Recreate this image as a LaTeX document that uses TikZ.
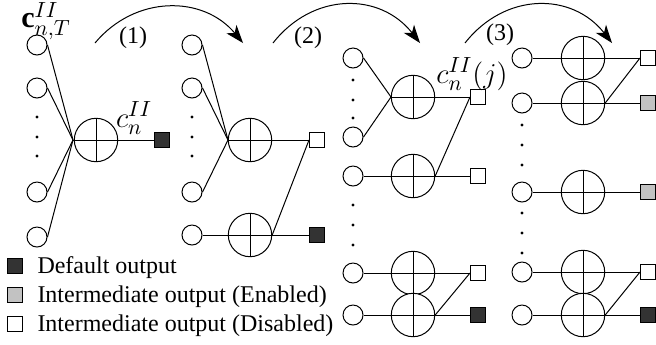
\documentclass[tikz,border=0pt,12pt]{standalone}
\usepackage{fontspec}
\setmainfont{Liberation Serif}
\usetikzlibrary{arrows.meta}
\definecolor{defout}{gray}{0.2}
\definecolor{enout}{gray}{0.76}
\begin{document}
\begin{tikzpicture}[x=0.5pt, y=-0.5pt, line width=0.5pt,
	inc/.style={circle, draw, minimum size=10pt, inner sep=0pt, fill=white},
	sumc/.style={circle, draw, minimum size=21.7pt, inner sep=0pt, fill=white,
		path picture={\draw (path picture bounding box.north) -- (path picture bounding box.south)
			(path picture bounding box.west) -- (path picture bounding box.east);}},
	outsq/.style={draw, minimum size=7.5pt, inner sep=0pt, fill=white},
	dflt/.style={outsq, fill=defout},
	enbl/.style={outsq, fill=enout},
	mlabel/.style={inner sep=0pt, font=\fontsize{15}{18}\selectfont},
	stage/.style={-{Stealth[length=9pt, width=6.5pt, inset=2.5pt]}}]

	\useasboundingbox (0,0) rectangle (656,344);

	% stage 0
	\node[inc] (a1) at (37, 45) {};
	\node[inc] (a2) at (37, 88) {};
	\node[inc] (a3) at (37,192) {};
	\node[inc] (a4) at (37,237) {};
	\fill (37,117) circle [radius=0.8pt];
	\fill (37,137) circle [radius=0.8pt];
	\fill (37,156) circle [radius=0.8pt];
	\coordinate (ja) at (73,140);
	\node[sumc] (A) at (96,140) {};
	\node[dflt] (sa) at (162,140) {};
	\draw (a1.east) -- (ja);
	\draw (a2.east) -- (ja);
	\draw (a3.east) -- (ja);
	\draw (a4.east) -- (ja);
	\draw (ja) -- (sa.west);
	\node[mlabel] (ctl) at (46,21) {$\mathbf{c}^{II}_{n,T}$};
	\node[mlabel] (cl) at (134,118) {$c^{II}_{n}$};

	% stage 1
	\node[inc] (b1) at (192, 45) {};
	\node[inc] (b2) at (192, 88) {};
	\node[inc] (b3) at (192,192) {};
	\node[inc] (b4) at (192,235) {};
	\fill (192,117) circle [radius=0.8pt];
	\fill (192,137) circle [radius=0.8pt];
	\fill (192,156) circle [radius=0.8pt];
	\coordinate (jb) at (228,140);
	\node[sumc] (B1) at (250,140) {};
	\node[sumc] (B2) at (250,235) {};
	\node[outsq] (sb1) at (317,140) {};
	\node[dflt] (sb2) at (317,235) {};
	\draw (b1.east) -- (jb);
	\draw (b2.east) -- (jb);
	\draw (b3.east) -- (jb);
	\draw (jb) -- (sb1.west);
	\draw (b4.east) -- (sb2.west);
	\draw (B2.east) -- (sb1.west);

	% stage 2
	\node[inc] (c1) at (353, 58) {};
	\node[inc] (c2) at (353,137) {};
	\node[inc] (c3) at (353,176) {};
	\node[inc] (c4) at (353,273) {};
	\node[inc] (c5) at (353,315) {};
	\fill (353, 80) circle [radius=0.8pt];
	\fill (353,100) circle [radius=0.8pt];
	\fill (353,118) circle [radius=0.8pt];
	\fill (353,205) circle [radius=0.8pt];
	\fill (353,225) circle [radius=0.8pt];
	\fill (353,245) circle [radius=0.8pt];
	\coordinate (jc) at (391,97);
	\node[sumc] (C1) at (413, 97) {};
	\node[sumc] (C2) at (413,176) {};
	\node[sumc] (C3) at (413,273) {};
	\node[sumc] (C4) at (413,315) {};
	\node[outsq] (sc1) at (478, 97) {};
	\node[outsq] (sc2) at (478,176) {};
	\node[outsq] (sc3) at (478,273) {};
	\node[dflt] (sc4) at (478,315) {};
	\draw (c1.east) -- (jc);
	\draw (c2.east) -- (jc);
	\draw (jc) -- (sc1.west);
	\draw (c3.east) -- (sc2.west);
	\draw (c4.east) -- (sc3.west);
	\draw (c5.east) -- (sc4.west);
	\draw (C2.east) -- (sc1.west);
	\draw (C4.east) -- (sc3.west);
	\node[mlabel] (cj) at (472,74) {$c^{II}_{n}(j)$};

	% stage 3
	\node[inc] (d1) at (522, 58) {};
	\node[inc] (d2) at (522,103) {};
	\node[inc] (d3) at (522,192) {};
	\node[inc] (d4) at (522,272) {};
	\node[inc] (d5) at (522,315) {};
	\fill (522,125) circle [radius=0.8pt];
	\fill (522,145) circle [radius=0.8pt];
	\fill (522,165) circle [radius=0.8pt];
	\fill (522,213) circle [radius=0.8pt];
	\fill (522,233) circle [radius=0.8pt];
	\fill (522,253) circle [radius=0.8pt];
	\node[sumc] (D1) at (583, 58) {};
	\node[sumc] (D2) at (583,103) {};
	\node[sumc] (D3) at (583,192) {};
	\node[sumc] (D4) at (583,272) {};
	\node[sumc] (D5) at (583,315) {};
	\node[outsq] (sd1) at (648, 58) {};
	\node[enbl] (sd2) at (648,103) {};
	\node[enbl] (sd3) at (648,192) {};
	\node[outsq] (sd4) at (648,272) {};
	\node[dflt] (sd5) at (648,315) {};
	\draw (d1.east) -- (sd1.west);
	\draw (d2.east) -- (sd2.west);
	\draw (d3.east) -- (sd3.west);
	\draw (d4.east) -- (sd4.west);
	\draw (d5.east) -- (sd5.west);
	\draw (D2.east) -- (sd1.west);
	\draw (D5.east) -- (sd4.west);

	% steps
	\coordinate (s1) at (95,43);
	\coordinate (e1) at (243,43);
	\coordinate (s2) at (273,43);
	\coordinate (e2) at (420,43);
	\coordinate (s3) at (465,43);
	\coordinate (e3) at (612,43);
	\draw[stage] (s1) .. controls (135,-5) and (203,-5) .. (e1);
	\draw[stage] (s2) .. controls (313,-8) and (380,-8) .. (e2);
	\draw[stage] (s3) .. controls (505,-8) and (572,-8) .. (e3);
	\node (l1) at (133,38) {(1)};
	\node (l2) at (308,38) {(2)};
	\node (l3) at (500,35) {(3)};

	% legend
	\node[dflt] (k1) at (15,266) {};
	\node[enbl] (k2) at (15,295) {};
	\node[outsq] (k3) at (15,324) {};
	\node[anchor=base west, inner sep=0pt] (t1) at (37,273) {Default output};
	\node[anchor=base west, inner sep=0pt] (t2) at (37,302) {Intermediate output (Enabled)};
	\node[anchor=base west, inner sep=0pt] (t3) at (37,331) {Intermediate output (Disabled)};

\end{tikzpicture}
\end{document}
